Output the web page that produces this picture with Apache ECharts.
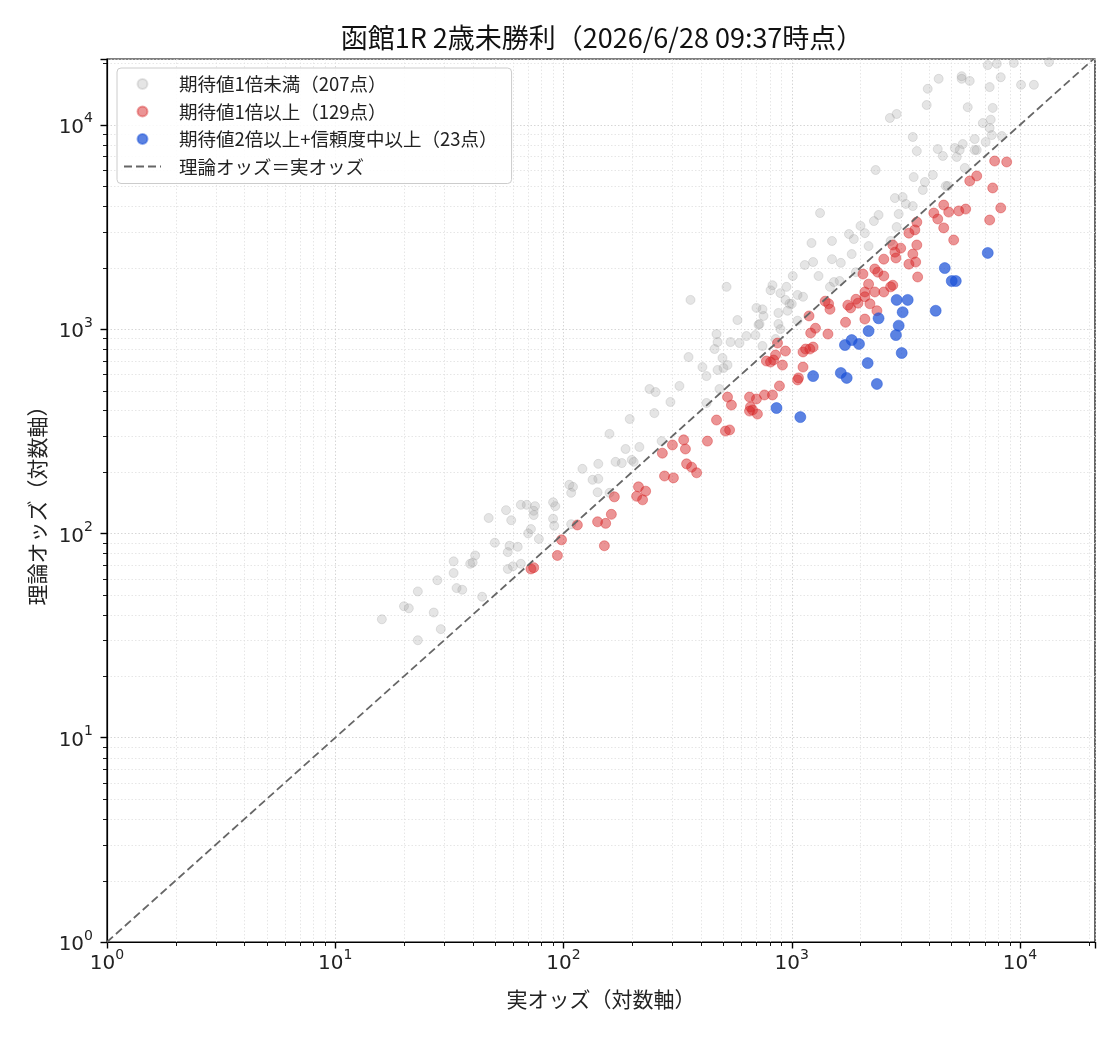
<!DOCTYPE html>
<html>
<head>
<meta charset="utf-8">
<script src="https://cdn.jsdelivr.net/npm/echarts@6/dist/echarts.min.js"></script>
<style>
  html, body { margin: 0; padding: 0; background: #fff; }
  #chart { width: 1120px; height: 1040px; }
</style>
</head>
<body>
<div id="chart"></div>
<script>
// 実オッズ vs 理論オッズ（両対数）
var FONT = '"Noto Sans CJK JP", "Noto Sans", sans-serif';
var TICKFONT = '"DejaVu Sans", sans-serif';
var xMax = 21300, yMax = 21000;

var seriesNames = ['期待値1倍未満（207点）', '期待値1倍以上（129点）', '期待値2倍以上+信頼度中以上（23点）', '理論オッズ＝実オッズ'];

// [実オッズ, 理論オッズ]
var grayPts = [
  [16,38],[20,44],[21,43],[23,30],[23,52],[27,41],[29,34],[28,59],[33,73],[33,64],[34,54],[36,53],[44,49],[39,71],[40,72],[41,78],
  [47,119],[56,130],[59,116],[50,90],[57,81],[58,87],[63,86],[57,67],[60,69],[65,71],[65,138],[69,138],[75,136],[74,129],[74,123],
  [70,100],[72,105],[78,94],[90,142],[92,136],[90,118],[91,109],[106,173],[110,169],[108,158],[121,207],[134,183],[142,185],[141,159],
  [108,111],[142,219],[159,158],[169,224],[180,221],[199,229],[203,224],[159,307],[187,259],[215,265],[269,283],[195,363],[250,388],
  [294,440],[238,509],[253,492],[322,527],[353,730],[406,652],[423,589],[473,631],[497,722],[502,645],[523,667],[482,509],[423,435],
  [468,946],[473,864],[459,799],[539,864],[590,855],[633,925],[693,935],[744,827],[849,894],[578,1108],[700,1270],[744,1250],[752,1160],
  [722,1060],[715,1050],[874,1200],[958,1230],[977,1330],[1000,1330],[874,1060],[892,1000],[1060,1100],[360,1390],[518,1610],[823,1640],
  [807,1550],[948,1610],[892,1500],[938,1390],[1060,1470],[1120,1440],[1010,1820],[1140,2060],[1240,2130],[1310,1820],[1500,2200],
  [1640,2110],[1830,2330],[1910,1900],[1620,1720],[1530,1700],[1470,1610],[1220,2640],[1500,2700],[1780,2920],[1870,2760],[2090,2950],
  [2000,3200],[2170,2550],[1330,3700],[2290,3380],[2400,3620],[2880,3160],[2710,2700],[2830,4380],[3060,4430],[3160,4100],[3390,4000],
  [2940,3660],[2330,6010],[3420,5550],[4150,5680],[5730,6150],[3830,5250],[3750,4800],[4730,5020],[4820,5020],[2690,10800],[2880,11300],
  [3390,8720],[3530,7440],[4360,7610],[4590,7040],[5180,7700],[5440,7530],[5610,8050],[5280,6960],[6330,7530],[6460,7530],[6330,8520],
  [6870,10200],[7440,10600],[7360,9650],[7520,8910],[8320,8810],[7070,8240],[3900,12500],[3940,15000],[5900,12200],[7590,12100],
  [4400,16800],[5550,17300],[5550,16800],[6020,16400],[8230,17100],[7360,15300],[10100,15700],[11500,15700],[7220,19600],[7910,19900],
  [9390,20100],[13400,20300]
];

var redPts = [
  [72,67],[74,68],[94,78],[98,93],[115,110],[141,114],[153,112],[151,87],[162,124],[167,151],[213,169],[229,161],[209,152],[222,146],
  [277,191],[303,187],[271,247],[300,271],[336,287],[342,259],[346,219],[364,211],[383,198],[427,283],[468,359],[512,317],[534,321],
  [523,465],[544,425],[653,465],[700,455],[759,476],[823,476],[659,416],[673,402],[707,384],[653,397],[883,527],[1060,564],[1070,577],
  [1120,652],[910,667],[849,747],[832,706],[774,698],[807,690],[938,781],[866,855],[1120,773],[1150,799],[1200,799],[1240,817],
  [1190,1160],[1270,1010],[1210,957],[1440,946],[1400,1370],[1450,1330],[1470,1250],[1760,1310],[1810,1270],[1910,1400],[1950,1340],
  [1720,1080],[2090,1120],[2360,1230],[2200,1330],[2170,1660],[2090,1520],[2090,1440],[2310,1520],[2530,1520],[2770,1640],[2710,1610],
  [2050,1860],[2310,1970],[2380,1900],[2530,1820],[2530,2200],[2770,2580],[3000,2490],[2830,2380],[2860,2230],[3530,2580],[3390,2330],
  [3490,2130],[3260,2080],[3560,1800],[3530,3340],[3460,3060],[3260,2950],[4190,3700],[4360,3460],[4630,3130],[4630,4050],[4870,3740],
  [5390,3790],[5780,3870],[5120,2730],[7360,3420],[8230,3920],[7590,4910],[6460,5620],[6020,5310],[7740,6650],[8740,6580]
];

var bluePts = [
  [857,411],[1090,371],[1240,589],[1640,610],[1740,577],[1710,836],[1830,884],[1970,846],[2150,682],[2170,979],[2360,539],[2400,1130],
  [2860,935],[2940,1040],[2880,1390],[3220,1390],[3060,1210],[3030,764],[4270,1230],[4680,1990],[5020,1720],[5230,1720],[7220,2360]
];

var diagLine = [[1, 1], [yMax, yMax]];

var decades = [1, 10, 100, 1000, 10000];
var minorSteps = [2, 3, 4, 5, 6, 7, 8, 9];

function minorValues(max) {
  var out = [];
  decades.forEach(function (d) {
    minorSteps.forEach(function (k) {
      if (d * k < max) out.push(d * k);
    });
  });
  return out;
}
var xMinor = minorValues(xMax).map(function (v) { return [v, 1]; });
var yMinor = minorValues(yMax).map(function (v) { return [1, v]; });

function powLabel(v) {
  var lg = Math.log10(v);
  var e = Math.round(lg);
  if (Math.abs(lg - e) > 1e-6) return '';
  return '{b|10}{e|' + e + '}';
}
var powRich = {
  b: { fontSize: 20, fontFamily: TICKFONT, color: '#222', lineHeight: 26, verticalAlign: 'bottom' },
  e: { fontSize: 14, fontFamily: TICKFONT, color: '#222', lineHeight: 26, verticalAlign: 'top' }
};

// 補助目盛と補助グリッド
function minorRender(dir) {
  return function (params, api) {
    var cs = params.coordSys;
    var p = api.coord([api.value(0), api.value(1)]);
    var g, t;
    if (dir === 'x') {
      var x = Math.round(p[0]) + 0.5;
      g = { x1: x, y1: cs.y, x2: x, y2: cs.y + cs.height };
      t = { x1: x, y1: cs.y + cs.height, x2: x, y2: cs.y + cs.height + 4 };
    } else {
      var y = Math.round(p[1]) + 0.5;
      g = { x1: cs.x, y1: y, x2: cs.x + cs.width, y2: y };
      t = { x1: cs.x - 4, y1: y, x2: cs.x, y2: y };
    }
    return {
      type: 'group',
      children: [
        { type: 'line', shape: g, style: { stroke: '#e0e0e0', lineWidth: 0.8, lineDash: [1.5, 2] } },
        { type: 'line', shape: t, style: { stroke: '#000', lineWidth: 0.9 } }
      ]
    };
  };
}

var gridLine = { show: true, lineStyle: { color: '#cccccc', width: 0.8, type: [1.5, 2] } };

var chart = echarts.init(document.getElementById('chart'), null, { renderer: 'canvas' });
chart.setOption({
  animation: false,
  backgroundColor: '#fff',
  title: {
    text: '函館1R 2歳未勝利（2026/6/28 09:37時点）',
    left: 597, top: 19, textAlign: 'center',
    textStyle: { fontSize: 27, fontWeight: 'normal', color: '#111', fontFamily: FONT }
  },
  legend: {
    orient: 'vertical', left: 117, top: 68,
    padding: [6.5, 14, 7.5, 6], itemGap: 8.5, itemWidth: 37, itemHeight: 10,
    borderColor: '#cccccc', borderWidth: 1, borderRadius: 4,
    backgroundColor: 'rgba(255,255,255,0.85)',
    textStyle: { fontSize: 18.5, color: '#222', fontFamily: FONT, lineHeight: 19, padding: [0, 0, 0, 13] },
    data: [
      { name: seriesNames[0], icon: 'circle' },
      { name: seriesNames[1], icon: 'circle' },
      { name: seriesNames[2], icon: 'circle' },
      { name: seriesNames[3], itemStyle: { opacity: 0 } }
    ]
  },
  grid: { left: 107, right: 25, top: 59, bottom: 98, containLabel: false, show: true, borderColor: '#000', borderWidth: 1.2 },
  xAxis: {
    type: 'log', logBase: 10, min: 1, max: xMax,
    name: '実オッズ（対数軸）', nameLocation: 'middle', nameGap: 47,
    nameTextStyle: { fontSize: 21, color: '#222', fontFamily: FONT },
    axisLine: { lineStyle: { color: '#000', width: 1.2 } },
    axisTick: { length: 6.5, lineStyle: { color: '#000', width: 1.4 } },
    axisLabel: { formatter: powLabel, rich: powRich, margin: 6 },
    splitLine: gridLine
  },
  yAxis: {
    type: 'log', logBase: 10, min: 1, max: yMax,
    name: '理論オッズ（対数軸）', nameLocation: 'middle', nameGap: 59, nameRotate: 90,
    nameTextStyle: { fontSize: 21, color: '#222', fontFamily: FONT },
    axisLine: { lineStyle: { color: '#000', width: 1.2 } },
    axisTick: { length: 6.5, lineStyle: { color: '#000', width: 1.4 } },
    axisLabel: { formatter: powLabel, rich: powRich, margin: 14 },
    splitLine: gridLine
  },
  series: [
    { type: 'custom', silent: true, z: 0, clip: false, data: xMinor, renderItem: minorRender('x') },
    { type: 'custom', silent: true, z: 0, clip: false, data: yMinor, renderItem: minorRender('y') },
    {
      name: seriesNames[0], type: 'scatter', data: grayPts, symbolSize: 9, z: 2,
      itemStyle: { color: 'rgba(150,150,150,0.3)', borderColor: 'rgba(150,150,150,0.3)', borderWidth: 1 },
      emphasis: { disabled: true }
    },
    {
      name: seriesNames[1], type: 'scatter', data: redPts, symbolSize: 10, z: 3,
      itemStyle: { color: 'rgba(214,39,40,0.62)', borderColor: 'rgba(214,39,40,0.5)', borderWidth: 1 },
      emphasis: { disabled: true }
    },
    {
      name: seriesNames[2], type: 'scatter', data: bluePts, symbolSize: 11, z: 4,
      itemStyle: { color: 'rgba(28,82,215,0.9)', borderColor: 'rgba(28,82,215,0.6)', borderWidth: 1 },
      emphasis: { disabled: true }
    },
    {
      name: seriesNames[3], type: 'line', data: diagLine, symbol: 'none', z: 5, silent: true,
      lineStyle: { color: '#666666', width: 1.8, type: [8, 4] },
      itemStyle: { color: '#666666' }
    }
  ]
});
</script>
</body>
</html>
